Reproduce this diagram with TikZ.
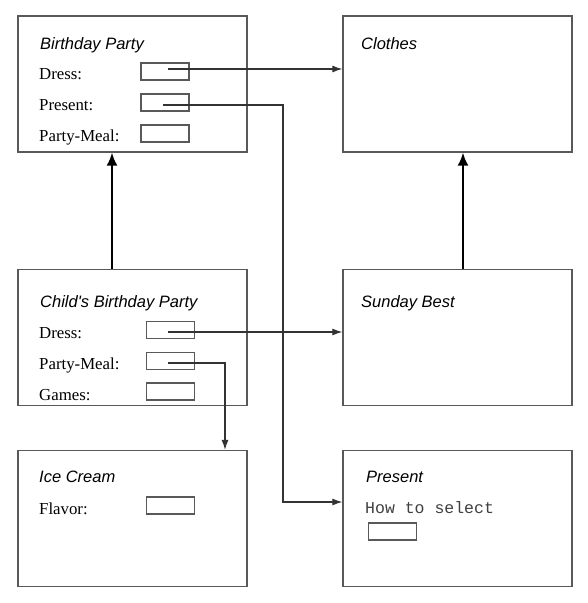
\documentclass[tikz,border=0pt]{standalone}
\usepackage{fontspec}
\setmainfont{Liberation Serif}
\newfontfamily\titlefont{Liberation Sans}
\newfontfamily\codefont{Liberation Mono}
\usetikzlibrary{arrows.meta}
\begin{document}
\begin{tikzpicture}[x=1pt,y=-1pt,
  frame/.style={draw=black!65,line width=1.3pt,minimum width=229pt,minimum height=136pt,inner sep=0pt},
  field/.style={draw=black!65,line width=1.3pt,minimum width=48pt,minimum height=17pt,inner sep=0pt},
  ttl/.style={anchor=base west,inner sep=0pt,font=\titlefont\itshape\fontsize{16.5}{20}\selectfont},
  lbl/.style={anchor=base west,inner sep=0pt,font=\fontsize{16.8}{20}\selectfont},
  code/.style={anchor=base west,inner sep=0pt,font=\codefont\fontsize{16.5}{20}\selectfont,text=black!75},
  conn/.style={draw=black!80,line width=1.1pt,-{Latex[length=10pt,width=7pt]}},
  isa/.style={draw=black,line width=2pt,-{Latex[length=13pt,width=11pt]}}
]
\useasboundingbox (0,0) rectangle (588,603);
\fill[white] (0,0) rectangle (588,603);
% frames
\node[frame] (bp) at (132.5,84) {};
\node[frame] (cl) at (457.5,84) {};
\node[frame] (cbp) at (132.5,337.5) {};
\node[frame] (sb) at (457.5,337.5) {};
\node[frame] (ic) at (132.5,518.5) {};
\node[frame] (pr) at (457.5,518.5) {};
% titles
\node[ttl] (bpt) at (40,49) {Birthday Party};
\node[ttl] (clt) at (361,49) {Clothes};
\node[ttl] (cbpt) at (40,307) {Child's Birthday Party};
\node[ttl] (sbt) at (361,307) {Sunday Best};
\node[ttl] (ict) at (39,482) {Ice Cream};
\node[ttl] (prt) at (366,482) {Present};
% labels
\node[lbl] (l1) at (39,79.5) {Dress:};
\node[lbl] (l2) at (39,110.5) {Present:};
\node[lbl] (l3) at (39,141.5) {Party-Meal:};
\node[lbl] (l4) at (39,338) {Dress:};
\node[lbl] (l5) at (39,369) {Party-Meal:};
\node[lbl] (l6) at (39,400) {Games:};
\node[lbl] (l7) at (39,514) {Flavor:};
\node[code] (l8) at (365,513) {How to select};
% fields
\node[field] (bpdress) at (165,71.5) {};
\node[field] (bppres) at (165,102.5) {};
\node[field] (bpmeal) at (165,133.5) {};
\node[field] (cdress) at (170.5,330) {};
\node[field] (cmeal) at (170.5,361) {};
\node[field] (cgames) at (170.5,391.5) {};
\node[field] (flavor) at (170.5,505.5) {};
\node[field] (select) at (392.5,531.5) {};
% connectors
\coordinate (a1) at (168,69);
\coordinate (a2) at (163,105);
\coordinate (a3) at (168,332);
\coordinate (a4) at (168,363);
\draw[conn] (a1) -- (cl.west |- a1);
\draw[conn] (a2) -- (283,105) -- (283,502) -- (pr.west |- 0,502);
\draw[conn] (a3) -- (sb.west |- a3);
\draw[conn] (a4) -- (225,363) -- (ic.north -| 225,0);
% is-a arrows
\draw[isa] (cbp.north -| 112,0) -- (bp.south -| 112,0);
\draw[isa] (sb.north -| 463,0) -- (cl.south -| 463,0);
\end{tikzpicture}
\end{document}
